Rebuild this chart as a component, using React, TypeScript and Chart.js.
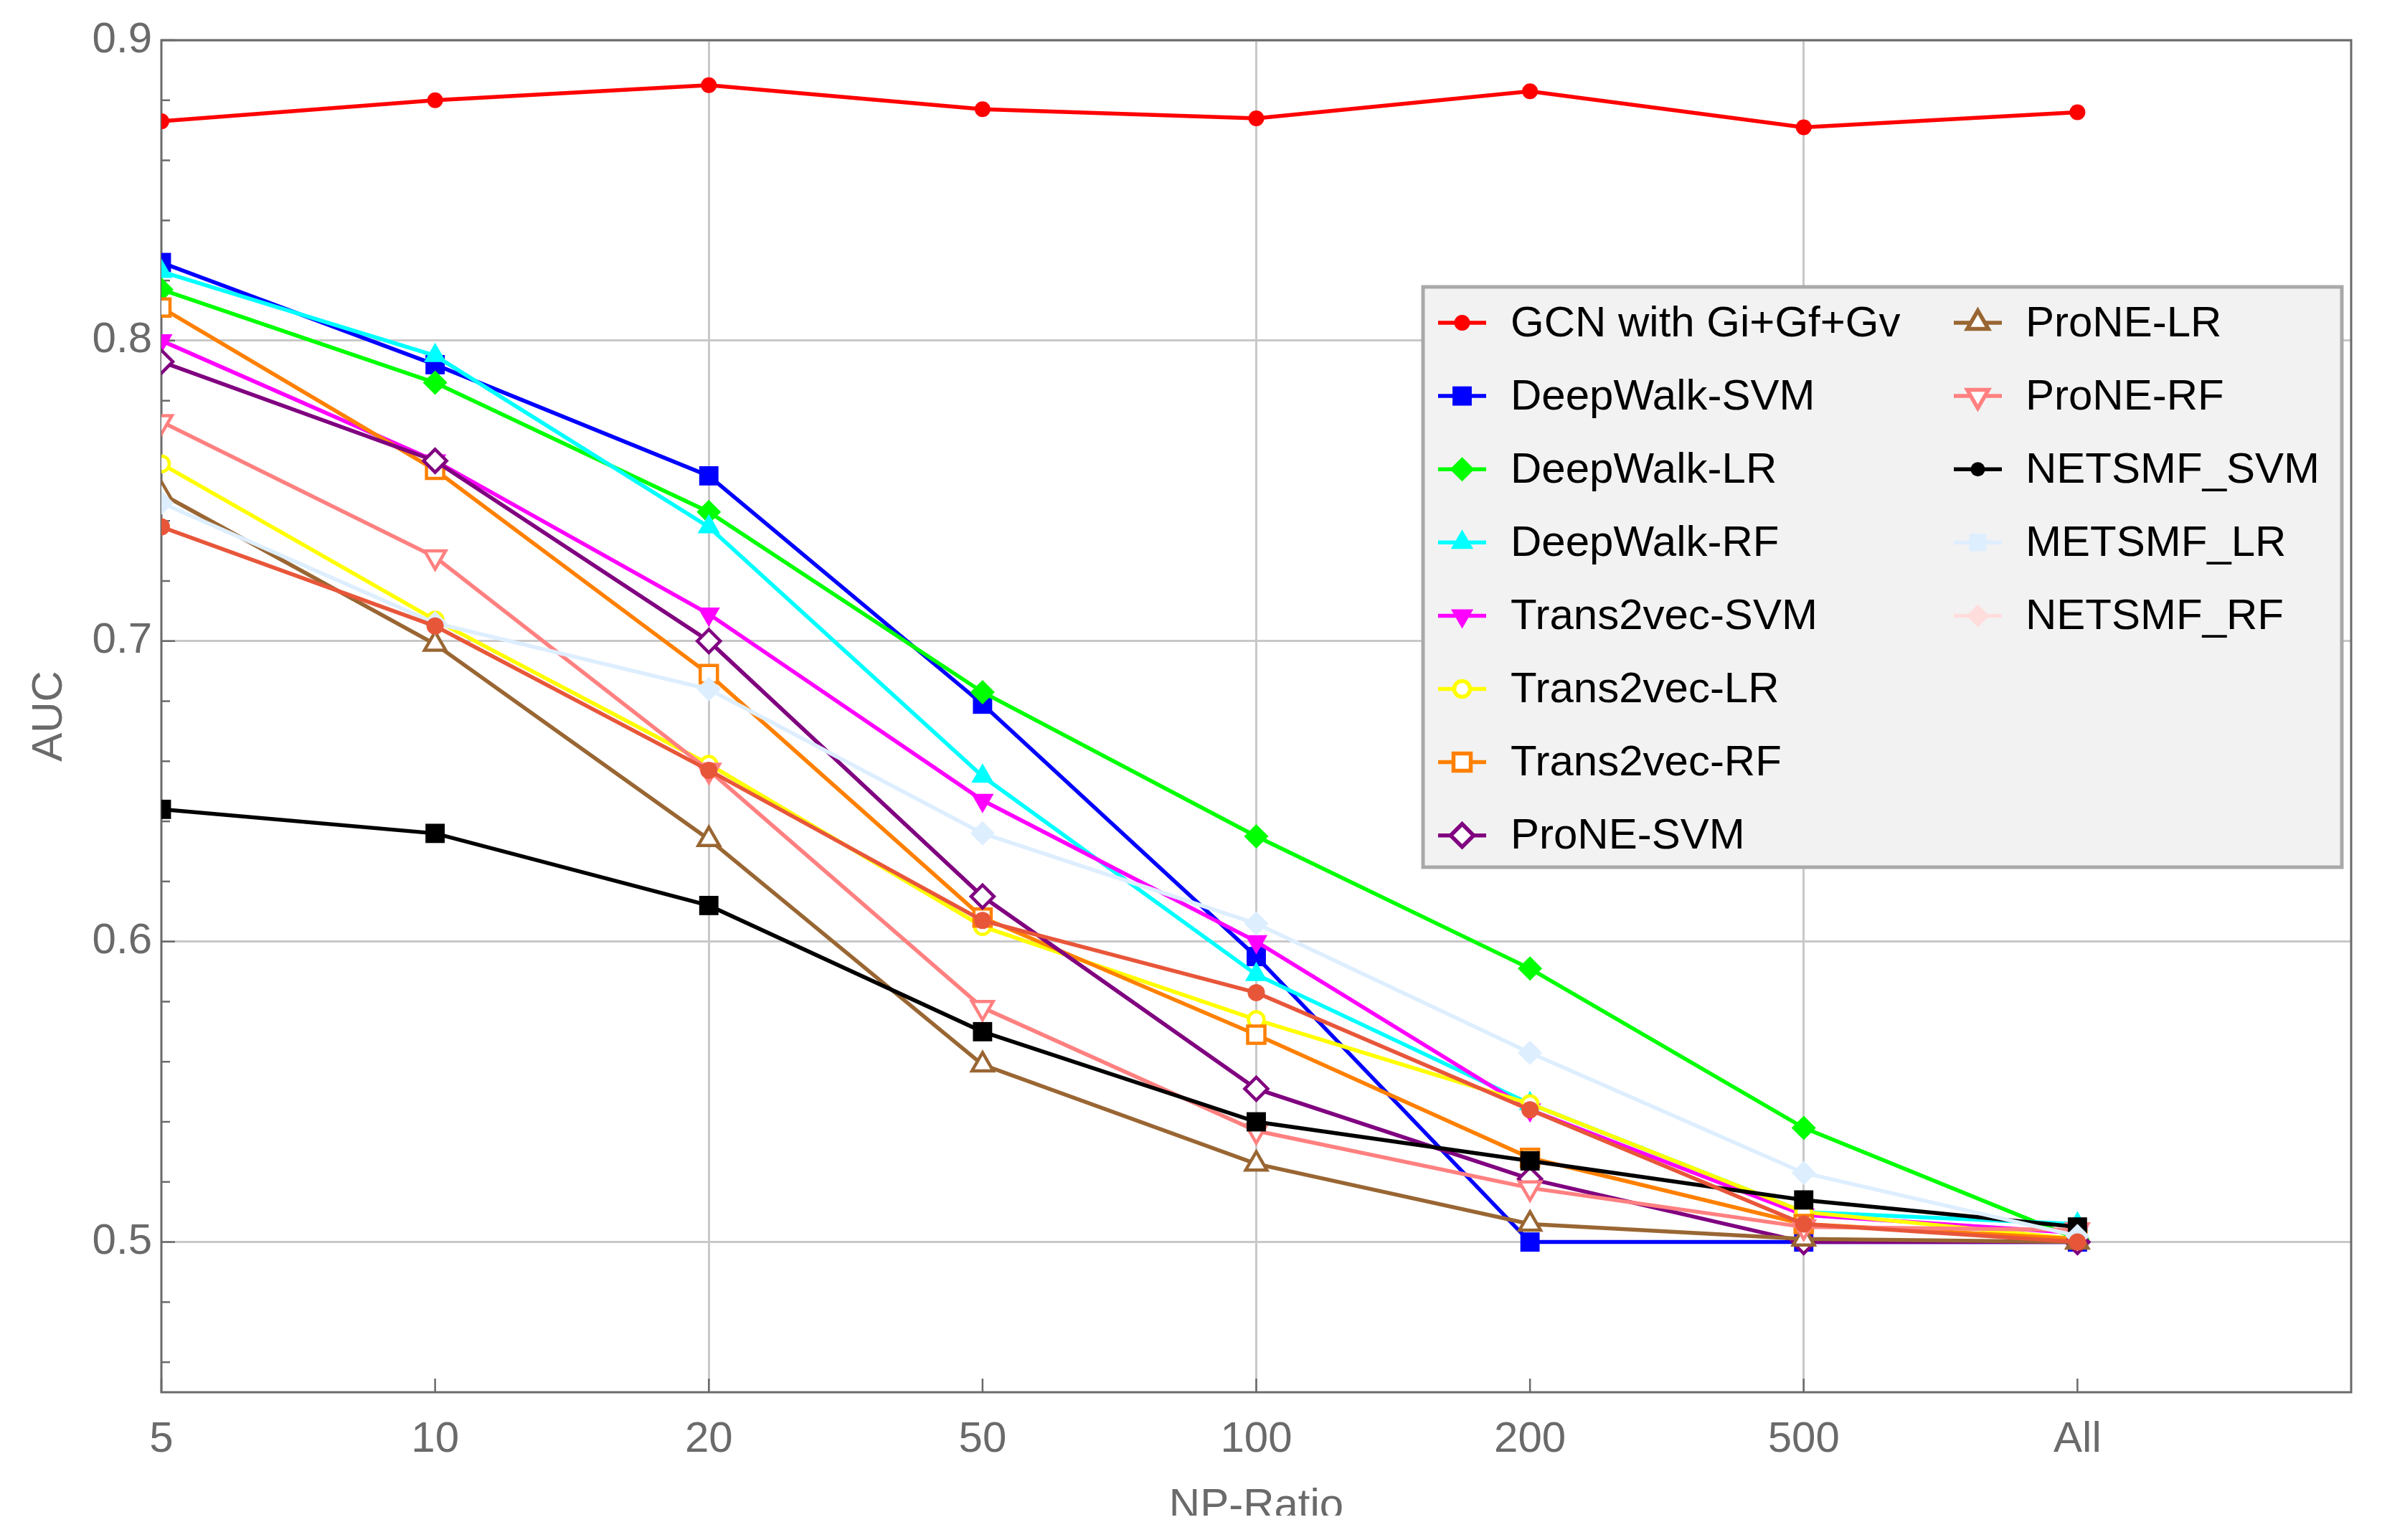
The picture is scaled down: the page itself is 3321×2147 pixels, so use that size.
import React, { useEffect, useRef } from 'react';
import Chart from 'chart.js/auto';
import { drawPoint } from 'chart.js/helpers';

const ratioLabels = ['5', '10', '20', '50', '100', '200', '500', 'All'];
const yTickValues = [0.5, 0.6, 0.7, 0.8, 0.9];

const seriesNames = [
  'GCN with Gi+Gf+Gv',
  'DeepWalk-SVM',
  'DeepWalk-LR',
  'DeepWalk-RF',
  'Trans2vec-SVM',
  'Trans2vec-LR',
  'Trans2vec-RF',
  'ProNE-SVM',
  'ProNE-LR',
  'ProNE-RF',
  'NETSMF_SVM',
  'METSMF_LR',
  'NETSMF_RF',
];

const gcn = [0.873, 0.880, 0.885, 0.877, 0.874, 0.883, 0.871, 0.876];
const deepwalkSvm = [0.826, 0.792, 0.755, 0.679, 0.595, 0.500, 0.500, 0.500];
const deepwalkLr = [0.817, 0.786, 0.743, 0.683, 0.635, 0.591, 0.538, 0.501];
const deepwalkRf = [0.823, 0.795, 0.738, 0.655, 0.589, 0.546, 0.510, 0.506];
const trans2vecSvm = [0.800, 0.760, 0.709, 0.647, 0.600, 0.544, 0.509, 0.503];
const trans2vecLr = [0.759, 0.707, 0.659, 0.605, 0.574, 0.546, 0.510, 0.501];
const trans2vecRf = [0.811, 0.757, 0.689, 0.608, 0.569, 0.528, 0.506, 0.501];
const proneSvm = [0.793, 0.760, 0.700, 0.615, 0.551, 0.521, 0.500, 0.500];
const proneLr = [0.749, 0.699, 0.634, 0.559, 0.526, 0.506, 0.501, 0.500];
const proneRf = [0.773, 0.728, 0.657, 0.578, 0.537, 0.518, 0.505, 0.504];
const netsmfSvm = [0.644, 0.636, 0.612, 0.570, 0.540, 0.527, 0.514, 0.505];
const metsmfLr = [0.746, 0.706, 0.684, 0.636, 0.606, 0.563, 0.523, 0.502];
const netsmfRf = [0.738, 0.705, 0.657, 0.607, 0.583, 0.544, 0.506, 0.500];

const seriesValues = [
  gcn, deepwalkSvm, deepwalkLr, deepwalkRf, trans2vecSvm, trans2vecLr, trans2vecRf,
  proneSvm, proneLr, proneRf, netsmfSvm, metsmfLr, netsmfRf,
];

type Marker = { color: string; shape: string; r: number; open?: boolean; rot?: number };

// markers as drawn on the curves
const plotMarkers: Marker[] = [
  { color: '#ff0000', shape: 'circle', r: 11 },
  { color: '#0000ff', shape: 'rect', r: 19 },
  { color: '#00ff00', shape: 'rectRot', r: 17 },
  { color: '#00ffff', shape: 'triangle', r: 18 },
  { color: '#ff00ff', shape: 'triangle', r: 18, rot: 180 },
  { color: '#ffff00', shape: 'circle', r: 11, open: true },
  { color: '#ff8000', shape: 'rect', r: 17, open: true },
  { color: '#800080', shape: 'rectRot', r: 16, open: true },
  { color: '#996633', shape: 'triangle', r: 17, open: true },
  { color: '#ff8080', shape: 'triangle', r: 17, open: true, rot: 180 },
  { color: '#000000', shape: 'rect', r: 19 },
  { color: '#ddeeff', shape: 'rectRot', r: 17 },
  { color: '#e8563a', shape: 'circle', r: 12 },
];

// markers as shown in the legend box
const legendMarkers: Marker[] = [
  ...plotMarkers.slice(0, 10),
  { color: '#000000', shape: 'circle', r: 10 },
  { color: '#ddeeff', shape: 'rect', r: 17 },
  { color: '#ffdddd', shape: 'rectRot', r: 16 },
];

const FONT = '"Liberation Sans", Arial, sans-serif';
const GRAY = '#6a6a6a';
const LINE_W = 5.5;

const drawMarker = (ctx: CanvasRenderingContext2D, m: Marker, x: number, y: number) => {
  ctx.save();
  ctx.fillStyle = m.open ? '#ffffff' : m.color;
  ctx.strokeStyle = m.color;
  drawPoint(ctx, { pointStyle: m.shape as any, rotation: m.rot || 0, radius: m.r, borderWidth: m.open ? 4.5 : 0 } as any, x, y);
  ctx.restore();
};

const decorPlugin = {
  id: 'decor',
  beforeDatasetsDraw(chart: any) {
    const { ctx, chartArea: a, scales } = chart;
    ctx.save();
    ctx.strokeStyle = GRAY;
    ctx.lineWidth = 3;
    ctx.strokeRect(a.left, a.top, a.right - a.left, a.bottom - a.top);
    ctx.lineWidth = 2.5;
    for (let k = 46; k <= 90; k += 2) {
      const py = scales.y.getPixelForValue(k / 100);
      ctx.beginPath();
      ctx.moveTo(a.left, py);
      ctx.lineTo(a.left + (k % 10 === 0 ? 19 : 12), py);
      ctx.stroke();
    }
    ratioLabels.forEach((_, i) => {
      const px = scales.x.getPixelForValue(i);
      ctx.beginPath();
      ctx.moveTo(px, a.bottom);
      ctx.lineTo(px, a.bottom - 19);
      ctx.stroke();
    });
    ctx.restore();
  },
  afterDraw(chart: any) {
    const { ctx, chartArea: a } = chart;
    ctx.save();
    // axis titles
    ctx.fillStyle = GRAY;
    ctx.font = `60px ${FONT}`;
    ctx.textAlign = 'center';
    ctx.textBaseline = 'alphabetic';
    ctx.fillText('NP-Ratio', (a.left + a.right) / 2, 2117);
    ctx.fillStyle = '#ffffff';
    ctx.fillRect(0, 2113, chart.width, chart.height - 2113);
    ctx.save();
    ctx.translate(69, (a.top + a.bottom) / 2);
    ctx.rotate(-Math.PI / 2);
    ctx.fillStyle = GRAY;
    ctx.textBaseline = 'middle';
    ctx.fillText('AUC', 0, 0);
    ctx.restore();

    // legend
    ctx.fillStyle = '#f2f2f2';
    ctx.fillRect(1984, 400, 1281, 809);
    ctx.strokeStyle = '#a9a9a9';
    ctx.lineWidth = 5;
    ctx.strokeRect(1984, 400, 1281, 809);
    ctx.font = `60px ${FONT}`;
    ctx.textAlign = 'left';
    ctx.textBaseline = 'middle';
    seriesNames.forEach((name, i) => {
      const col = i < 8 ? 0 : 1;
      const row = i < 8 ? i : i - 8;
      const y = 450 + row * 102.1;
      const x0 = col === 0 ? 2005 : 2724;
      const m = legendMarkers[i];
      ctx.strokeStyle = m.color;
      ctx.lineWidth = LINE_W;
      ctx.beginPath();
      ctx.moveTo(x0, y);
      ctx.lineTo(x0 + 67, y);
      ctx.stroke();
      drawMarker(ctx, m, x0 + 33.5, y);
      ctx.fillStyle = '#000000';
      ctx.fillText(name, col === 0 ? 2106 : 2824, y + 2);
    });
    ctx.restore();
  },
};

const App: React.FC = () => {
  const canvasRef = useRef<HTMLCanvasElement | null>(null);

  useEffect(() => {
    document.body.style.margin = '0';
    document.body.style.overflow = 'hidden';
    let chart: Chart | null = null;
    if (canvasRef.current) {
      const n = seriesNames.length;
      chart = new Chart(canvasRef.current, {
        type: 'line',
        data: {
          datasets: seriesNames.map((name, i) => {
            const m = plotMarkers[i];
            return {
              label: name,
              data: seriesValues[i].map((v, k) => ({ x: k, y: v })),
              borderColor: m.color,
              borderWidth: LINE_W,
              pointStyle: m.shape as any,
              pointRotation: m.rot || 0,
              pointRadius: m.r,
              pointBorderWidth: m.open ? 4.5 : 0,
              pointBorderColor: m.color,
              pointBackgroundColor: m.open ? '#ffffff' : m.color,
              fill: false,
              tension: 0,
              order: n - i,
            };
          }),
        },
        options: {
          animation: false,
          responsive: true,
          maintainAspectRatio: false,
          devicePixelRatio: 1,
          layout: { padding: { top: 56, right: 43, left: 0, bottom: 0 } },
          plugins: { legend: { display: false }, tooltip: { enabled: false } },
          scales: {
            x: {
              type: 'linear',
              min: 0,
              max: 8,
              afterBuildTicks: (s: any) => {
                s.ticks = ratioLabels.map((_, i) => ({ value: i }));
              },
              afterFit: (s: any) => {
                s.height = 206;
              },
              ticks: {
                autoSkip: false,
                maxRotation: 0,
                padding: 30,
                color: GRAY,
                font: { family: FONT, size: 60 },
                callback: (v: any) => ratioLabels[Math.round(Number(v))],
              },
              grid: {
                drawTicks: false,
                lineWidth: 3,
                color: (c: any) => (c.tick && [2, 4, 6].includes(c.tick.value) ? '#c8c8c8' : 'rgba(0,0,0,0)'),
              },
              border: { display: false },
            },
            y: {
              type: 'linear',
              min: 0.45,
              max: 0.9,
              afterBuildTicks: (s: any) => {
                s.ticks = yTickValues.map((v) => ({ value: v }));
              },
              afterFit: (s: any) => {
                s.width = 225;
              },
              ticks: {
                padding: 13,
                color: GRAY,
                font: { family: FONT, size: 60 },
                callback: (v: any) => Number(v).toFixed(1),
              },
              grid: { drawTicks: false, lineWidth: 3, color: '#c8c8c8' },
              border: { display: false },
            },
          },
        },
        plugins: [decorPlugin],
      });
    }
    return () => {
      if (chart) chart.destroy();
    };
  }, []);

  return (
    <div style={{ position: 'relative', width: 3321, height: 2147, background: '#ffffff' }}>
      <canvas ref={canvasRef} />
    </div>
  );
};

export default App;
